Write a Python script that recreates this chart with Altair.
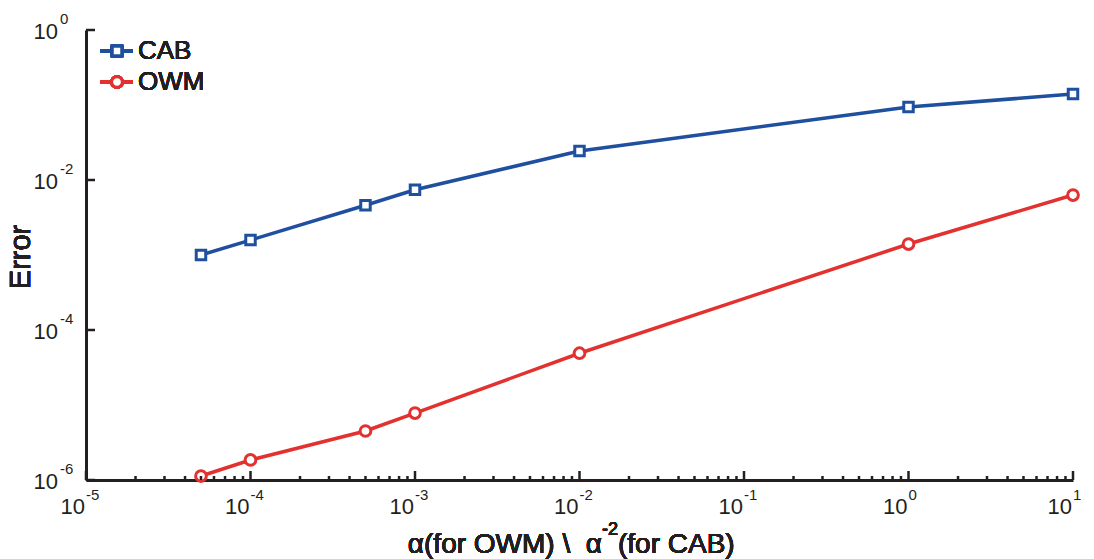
import altair as alt
import pandas as pd

# ---- data ----
alpha = [5e-5, 1e-4, 5e-4, 1e-3, 1e-2, 1.0, 10.0]
cab_err = [1.0e-3, 1.58e-3, 4.6e-3, 7.4e-3, 2.44e-2, 9.4e-2, 1.4e-1]
owm_err = [1.13e-6, 1.85e-6, 4.5e-6, 7.8e-6, 4.9e-5, 1.4e-3, 6.3e-3]
series = ["CAB", "OWM"]
colors = ["#1f4f9f", "#e2312f"]
shapes = ["square", "circle"]
sizes = [90, 115]
x_exps = [-5, -4, -3, -2, -1, 0, 1]
y_exps = [0, -2, -4, -6]
minor_mult = [2, 3, 4, 5, 6, 7, 8, 9]

INK = "#231f20"
FONT = "Liberation Sans"
W, H = 987, 450

df = pd.DataFrame({
    "alpha": alpha * 2,
    "err": cab_err + owm_err,
    "series": ["CAB"] * len(alpha) + ["OWM"] * len(alpha),
})
xmaj = pd.DataFrame({"val": [10.0 ** e for e in x_exps], "exp": [str(e) for e in x_exps]})
xmin = pd.DataFrame({"val": [m * 10.0 ** e for e in x_exps[:-1] for m in minor_mult]})
ymaj = pd.DataFrame({"val": [10.0 ** e for e in y_exps], "exp": [str(e) for e in y_exps]})

xscale = alt.Scale(type="log", domain=[1e-5, 10], nice=False)
yscale = alt.Scale(type="log", domain=[1e-6, 1], nice=False)
ax = alt.Axis(labels=False, ticks=False, grid=False, title=None,
              domainColor=INK, domainWidth=3)

X = lambda f: alt.X(f, type="quantitative", scale=xscale, axis=ax)
Y = lambda f: alt.Y(f, type="quantitative", scale=yscale, axis=ax)

col = alt.Color("series:N", scale=alt.Scale(domain=series, range=colors), legend=None)
stk = alt.Stroke("series:N", scale=alt.Scale(domain=series, range=colors), legend=None)
shp = alt.Shape("series:N", scale=alt.Scale(domain=series, range=shapes), legend=None)
siz = alt.Size("series:N", scale=alt.Scale(domain=series, range=sizes), legend=None)

TXT = dict(font=FONT, color=INK, fontWeight="normal", baseline="middle")

base = alt.Chart(df)
lines = base.mark_line(strokeWidth=3.5).encode(x=X("alpha"), y=Y("err"), color=col)
points = base.mark_point(fill="white", fillOpacity=1, opacity=1, strokeWidth=3).encode(
    x=X("alpha"), y=Y("err"), stroke=stk, shape=shp, size=siz)

# ticks (inward)
xmaj_t = alt.Chart(xmaj).mark_rule(color=INK, strokeWidth=2.5).encode(
    x=X("val"), y=alt.value(H), y2=alt.value(H - 9))
xmin_t = alt.Chart(xmin).mark_rule(color=INK, strokeWidth=2.5).encode(
    x=X("val"), y=alt.value(H), y2=alt.value(H - 4))
ymaj_t = alt.Chart(ymaj).mark_rule(color=INK, strokeWidth=2.5).encode(
    y=Y("val"), x=alt.value(0), x2=alt.value(9))

# tick labels as 10 with superscript exponents
xl10 = alt.Chart(xmaj).mark_text(align="right", fontSize=22, dx=-1, **TXT).encode(
    x=X("val"), y=alt.value(H + 27), text=alt.value("10"))
xlex = alt.Chart(xmaj).mark_text(align="left", fontSize=15, dx=0, **TXT).encode(
    x=X("val"), y=alt.value(H + 15), text="exp:N")
yl10 = alt.Chart(ymaj).mark_text(align="right", fontSize=22, dy=2, **TXT).encode(
    y=Y("val"), x=alt.value(-28), text=alt.value("10"))
ylex = alt.Chart(ymaj).mark_text(align="left", fontSize=15, dy=-11, **TXT).encode(
    y=Y("val"), x=alt.value(-26), text="exp:N")

# axis titles
ytitle = alt.Chart(df).mark_text(angle=270, align="center", fontSize=29, **TXT).encode(
    x=alt.value(-65), y=alt.value(227), text=alt.value("Error"))
xt1 = alt.Chart(df).mark_text(align="right", fontSize=28, **TXT).encode(
    x=alt.value(516), y=alt.value(515), text=alt.value("α(for OWM) \\\u00a0\u00a0α"))
xt2 = alt.Chart(df).mark_text(align="left", fontSize=18, **TXT).encode(
    x=alt.value(516), y=alt.value(500), text=alt.value("-2"))
xt3 = alt.Chart(df).mark_text(align="left", fontSize=28, **TXT).encode(
    x=alt.value(532), y=alt.value(515), text=alt.value("(for CAB)"))

# legend
leg = []
for i, s in enumerate(series):
    ly = 21 + 31 * i
    leg.append(alt.Chart(df).mark_rule(strokeWidth=3.5, color=colors[i]).encode(
        x=alt.value(14), x2=alt.value(47), y=alt.value(ly)))
    leg.append(alt.Chart(df).mark_point(shape=shapes[i], size=sizes[i], fill="white",
                                        fillOpacity=1, opacity=1, strokeWidth=3,
                                        stroke=colors[i]).encode(
        x=alt.value(31), y=alt.value(ly)))
    leg.append(alt.Chart(df).mark_text(align="left", fontSize=26, **TXT).encode(
        x=alt.value(52), y=alt.value(ly), text=alt.value(s)))

chart = alt.layer(
    lines, points, xmaj_t, xmin_t, ymaj_t, xl10, xlex, yl10, ylex,
    ytitle, xt1, xt2, xt3, *leg
).properties(
    width=W, height=H,
    autosize=alt.AutoSizeParams(type="none"),
    padding={"left": 86, "top": 30, "right": 21, "bottom": 79},
    background="white",
).configure_view(stroke=None)

chart.save("out.html", embed_options={"renderer": "svg", "actions": False})
